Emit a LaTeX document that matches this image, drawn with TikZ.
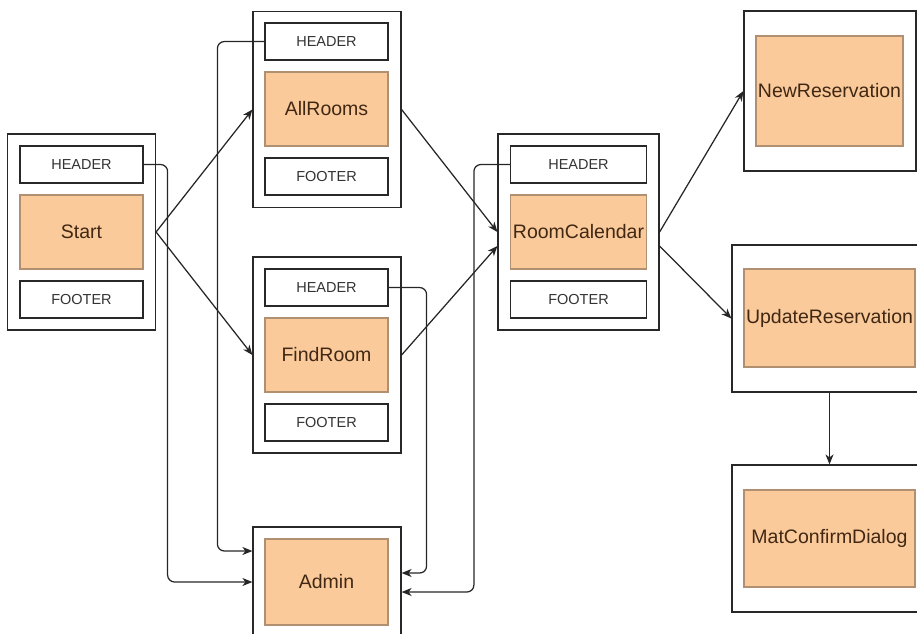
\documentclass[tikz,border=0pt]{standalone}
\usepackage{fontspec}
\setmainfont{Liberation Sans}
\usetikzlibrary{arrows.meta}
\definecolor{pagefill}{RGB}{251,202,155}
\definecolor{pageline}{RGB}{176,144,112}
\definecolor{pagetext}{RGB}{64,40,20}
\definecolor{bartext}{RGB}{51,51,51}
\definecolor{frameline}{RGB}{40,40,40}

\begin{document}
\begin{tikzpicture}[x=1pt,y=-1pt,line width=1.2pt,
	frame/.style={draw=frameline,fill=white,minimum width=148pt,minimum height=196pt,inner sep=0pt},
	bar/.style={draw=frameline,fill=white,minimum width=123pt,minimum height=37pt,inner sep=0pt,text=bartext,font=\fontsize{14.5}{17}\selectfont},
	page/.style={draw=pageline,fill=pagefill,minimum width=123pt,minimum height=74pt,inner sep=0pt,text=pagetext,font=\fontsize{19.5}{23}\selectfont},
	link/.style={-{Stealth[length=10pt,width=8pt,inset=3pt]},line width=1.25pt,draw=black!85},
	bus/.style={link,rounded corners=7pt}]
			\useasboundingbox (0,0) rectangle (917,633);
			\node[frame] (sf) at (81.5,232) {};
			\node[bar] (sh) at (81.5,164.5) {HEADER};
			\node[page] (sp) at (81.5,232) {Start};
			\node[bar] (sb) at (81.5,299.5) {FOOTER};
			\node[frame] (af) at (327,109.5) {};
			\node[bar] (ah) at (326.5,41.5) {HEADER};
			\node[page] (ap) at (326.5,109) {AllRooms};
			\node[bar] (ab) at (326.5,176.5) {FOOTER};
			\node[frame] (ff) at (327,355) {};
			\node[bar] (fh) at (326.5,287.5) {HEADER};
			\node[page] (fp) at (326.5,355) {FindRoom};
			\node[bar] (fb) at (326.5,422.5) {FOOTER};
			\node[frame,minimum height=110pt] (df) at (327,582) {};
			\node[page,minimum height=86pt] (dp) at (326.5,582) {Admin};
			\node[frame,minimum width=161pt] (rf) at (578.5,232) {};
			\node[bar,minimum width=136pt] (rh) at (578.5,164.5) {HEADER};
			\node[page,minimum width=136pt] (rp) at (578.5,232) {RoomCalendar};
			\node[bar,minimum width=136pt] (rb) at (578.5,299.5) {FOOTER};
			\node[frame,minimum width=172pt,minimum height=160pt] (nf) at (830,91) {};
			\node[page,minimum width=147pt,minimum height=110pt] (np) at (829.5,91) {NewReservation};
			\node[frame,minimum width=195pt,minimum height=147pt] (uf) at (829.5,318.5) {};
			\node[page,minimum width=171pt,minimum height=98pt] (up) at (829.5,318) {UpdateReservation};
			\node[frame,minimum width=195pt,minimum height=147pt] (mf) at (829.5,538.5) {};
			\node[page,minimum width=171pt,minimum height=97pt] (mp) at (829.5,538.5) {MatConfirmDialog};
			\draw[link] (sf.east) -- (af.west);
			\draw[link] (sf.east) -- (ff.west);
			\draw[link] (af.east) -- (rf.west);
			\draw[link] (ff.east) -- ([yshift=-14pt]rf.west);
			\draw[link] (rf.east) -- (nf.west);
			\draw[link] ([yshift=-14pt]rf.east) -- (uf.west);
			\draw[link] (uf.south) -- (mf.north);
			\draw[bus] (sh.east) -- ++(24,0) |- (df.west);
			\draw[bus] (ah.west) -- ++(-47,0) |- ([yshift=31pt]df.west);
			\draw[bus] (fh.east) -- ++(38,0) |- ([yshift=9pt]df.east);
			\draw[bus] (rh.west) -- ++(-36,0) |- ([yshift=-10pt]df.east);
		\end{tikzpicture}
\end{document}
